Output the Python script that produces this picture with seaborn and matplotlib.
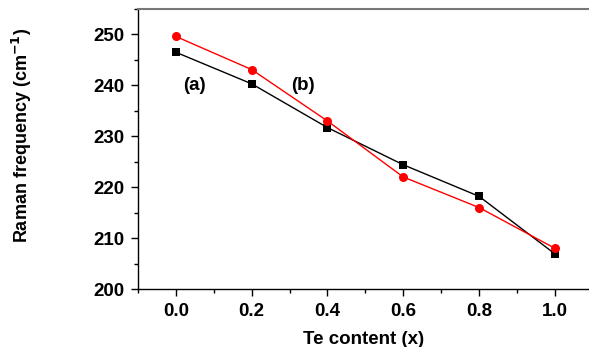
import matplotlib
matplotlib.use("Agg")
import matplotlib.pyplot as plt
import seaborn as sns
import pandas as pd
from matplotlib.ticker import MultipleLocator

# data
te_content = [0.0, 0.2, 0.4, 0.6, 0.8, 1.0]
freq_a = [246.5, 240.3, 231.7, 224.4, 218.2, 206.9]
freq_b = [249.6, 243.1, 233.0, 222.0, 216.0, 208.0]

sns.set_style("ticks")
plt.rcParams['font.family'] = ['Liberation Sans', 'DejaVu Sans']
plt.rcParams['font.weight'] = 'bold'
plt.rcParams['mathtext.default'] = 'bf'
plt.rcParams['text.color'] = 'black'
plt.rcParams['axes.labelcolor'] = 'black'
plt.rcParams['xtick.color'] = 'black'
plt.rcParams['ytick.color'] = 'black'

df_a = pd.DataFrame({"x": te_content, "y": freq_a})
df_b = pd.DataFrame({"x": te_content, "y": freq_b})

fig = plt.figure(figsize=(5.89, 3.47), dpi=100)
ax = fig.add_axes([0.2343, 0.1671, 0.7657, 0.807])

sns.lineplot(data=df_a, x="x", y="y", ax=ax, color="black", lw=1,
             marker="s", markersize=6, markeredgewidth=0, sort=False)
sns.lineplot(data=df_b, x="x", y="y", ax=ax, color="#ff0000", lw=1,
             marker="o", markersize=6.5, markeredgewidth=0, sort=False)

ax.set_xlim(-0.1, 1.09)
ax.set_ylim(200, 255)
ax.xaxis.set_major_locator(MultipleLocator(0.2))
ax.xaxis.set_minor_locator(MultipleLocator(0.1))
ax.yaxis.set_major_locator(MultipleLocator(10))
ax.yaxis.set_minor_locator(MultipleLocator(5))
ax.set_xticklabels([f"{v:.1f}" for v in ax.get_xticks()])

ax.tick_params(which="major", direction="out", length=5, width=1, labelsize=13.5, pad=5)
ax.tick_params(which="minor", direction="out", length=3, width=1)

ax.spines["right"].set_visible(False)
ax.spines["top"].set_color("#777777")
ax.spines["top"].set_linewidth(1.5)
for s in ["left", "bottom"]:
    ax.spines[s].set_linewidth(1)
    ax.spines[s].set_color("black")

ax.set_xlabel("Te content (x)", fontsize=13.5, fontweight="bold", labelpad=8)
ax.set_ylabel("Raman frequency (cm$^{-1}$)", fontsize=13, fontweight="bold")
ax.yaxis.set_label_coords(-0.23, 0.55)

ax.text(0.02, 240.0, "(a)", fontsize=13.5, fontweight="bold", ha="left", va="center")
ax.text(0.305, 240.0, "(b)", fontsize=13.5, fontweight="bold", ha="left", va="center")

fig.savefig("out.png", dpi=100)
